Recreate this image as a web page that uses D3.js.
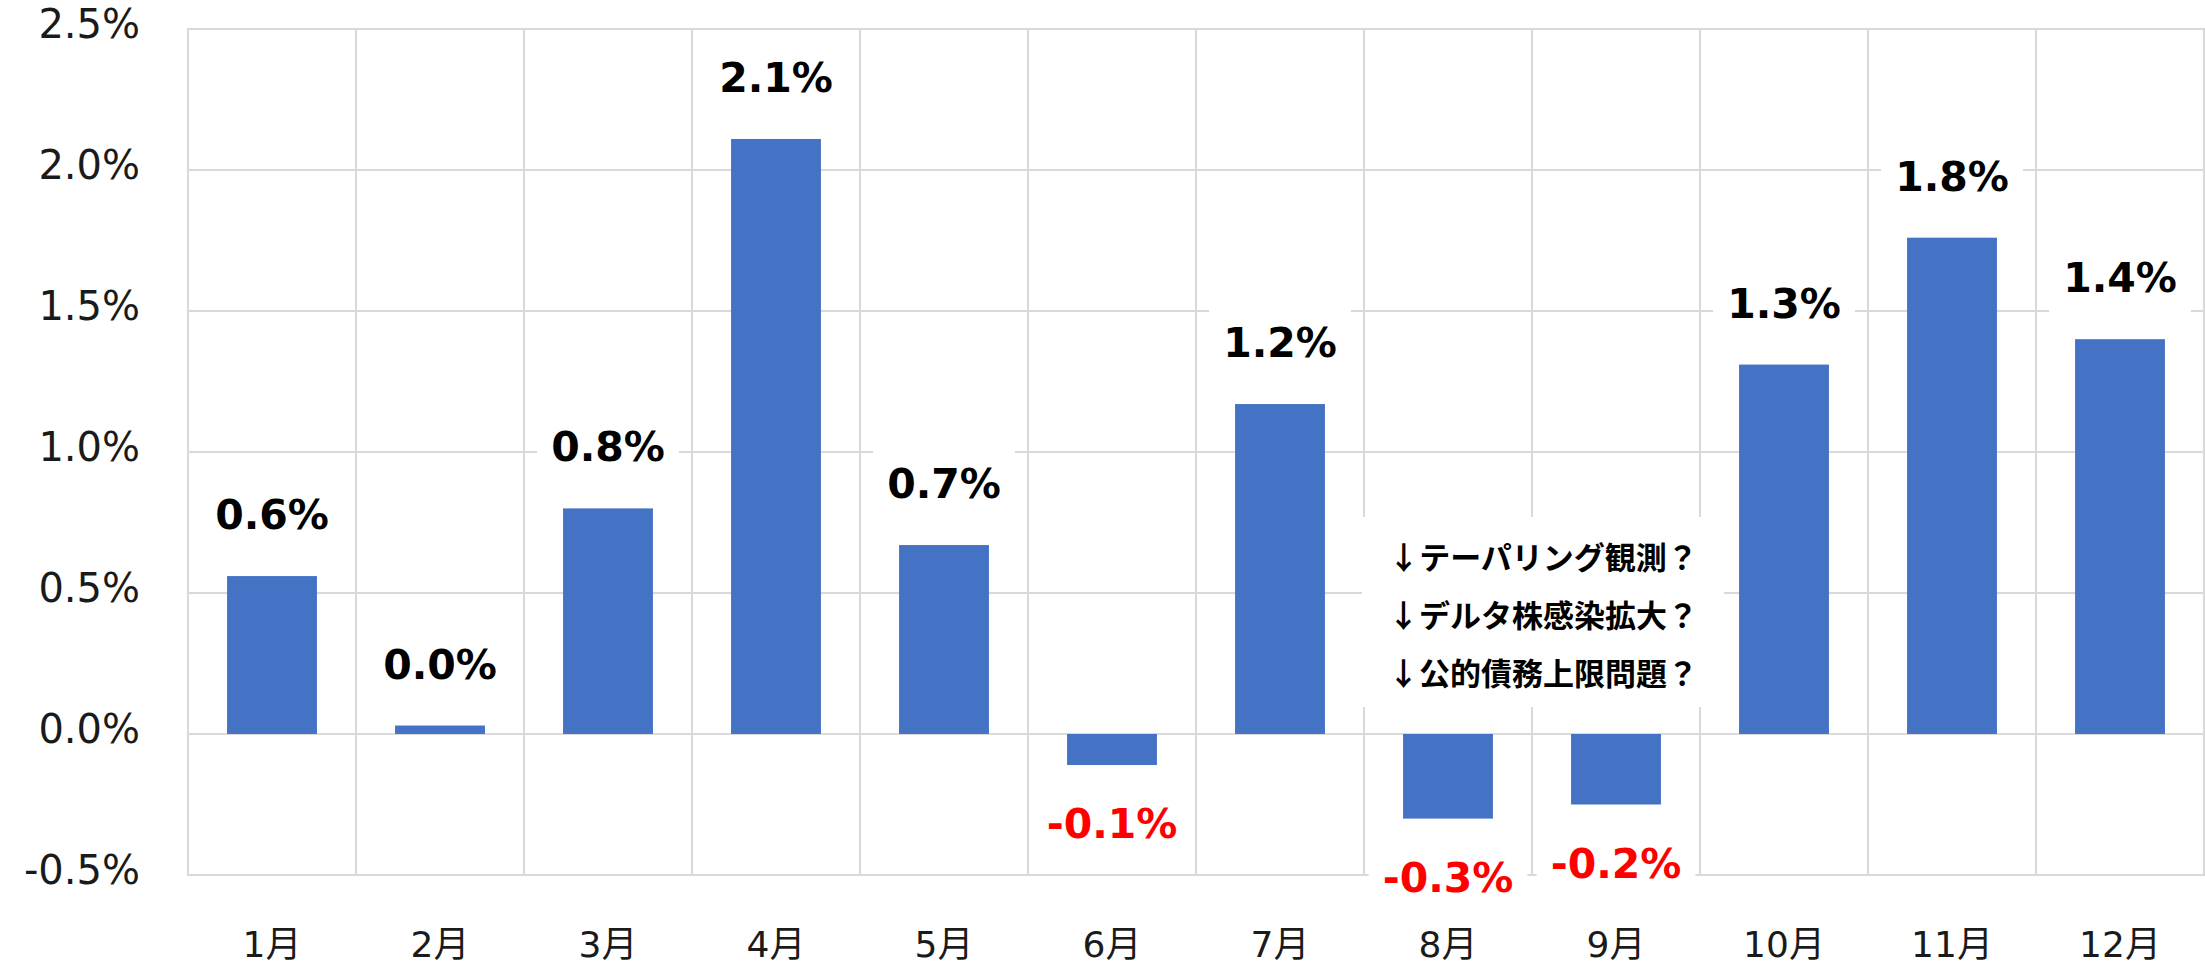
<!DOCTYPE html>
<html>
<head>
<meta charset="utf-8">
<script src="https://cdn.jsdelivr.net/npm/d3@7"></script>
<style>
  body { margin: 0; background: #fff; }
  text { font-family: "DejaVu Sans", "Noto Sans CJK JP", sans-serif; }
</style>
</head>
<body>
<svg class="chart"></svg>
<script>
var months = ["1月", "2月", "3月", "4月", "5月", "6月", "7月", "8月", "9月", "10月", "11月", "12月"];
var values = [0.56, 0.03, 0.80, 2.11, 0.67, -0.11, 1.17, -0.30, -0.25, 1.31, 1.76, 1.40];
var valueLabels = ["0.6%", "0.0%", "0.8%", "2.1%", "0.7%", "-0.1%", "1.2%", "-0.3%", "-0.2%", "1.3%", "1.8%", "1.4%"];
var yTicks = [-0.5, 0, 0.5, 1.0, 1.5, 2.0, 2.5];
var yTickLabels = ["-0.5%", "0.0%", "0.5%", "1.0%", "1.5%", "2.0%", "2.5%"];
var notes = ["↓テーパリング観測？", "↓デルタ株感染拡大？", "↓公的債務上限問題？"];

var W = 2205, H = 965;
var margin = {top: 29, right: 1, bottom: 90, left: 188};

var chart = d3.select(".chart")
    .attr("width", W)
    .attr("height", H);

var x = d3.scaleBand()
    .domain(months)
    .range([margin.left, W - margin.right]);

var y = d3.scaleLinear()
    .domain([-0.5, 2.5])
    .range([H - margin.bottom, margin.top]);

var grid = "#d9d9d9";

// horizontal grid
chart.append("g").selectAll("line")
    .data(yTicks)
  .enter().append("line")
    .attr("x1", margin.left)
    .attr("x2", W - margin.right)
    .attr("y1", function(d) { return y(d); })
    .attr("y2", function(d) { return y(d); })
    .attr("stroke", grid)
    .attr("stroke-width", 2);

// vertical grid (category boundaries)
var bounds = months.map(function(m) { return x(m); }).concat([x.range()[1]]);
chart.append("g").selectAll("line")
    .data(bounds)
  .enter().append("line")
    .attr("x1", function(d) { return d; })
    .attr("x2", function(d) { return d; })
    .attr("y1", y(2.5) - 1)
    .attr("y2", y(-0.5) + 1)
    .attr("stroke", grid)
    .attr("stroke-width", 2);

// y tick labels
chart.append("g").selectAll("text")
    .data(yTicks)
  .enter().append("text")
    .attr("x", 140)
    .attr("y", function(d) { return y(d) + 9; })
    .style("text-anchor", "end")
    .style("font-size", "40px")
    .attr("fill", "#1a1a1a")
    .text(function(d, i) { return yTickLabels[i]; });

// x tick labels
chart.append("g").selectAll("text")
    .data(months)
  .enter().append("text")
    .attr("x", function(d) { return x(d) + x.bandwidth() / 2; })
    .attr("y", 957)
    .style("text-anchor", "middle")
    .style("font-size", "36px")
    .attr("fill", "#1a1a1a")
    .text(function(d) { return d; });

// annotation box
var note = chart.append("g");
var noteCx = x("9月") + 11;
note.append("rect")
    .attr("x", noteCx - 181)
    .attr("y", 517)
    .attr("width", 362)
    .attr("height", 190)
    .attr("fill", "#fff");
note.selectAll("text")
    .data(notes)
  .enter().append("text")
    .attr("x", noteCx)
    .attr("y", function(d, i) { return 569 + i * 58; })
    .style("text-anchor", "middle")
    .style("font-family", "'Noto Sans CJK JP', sans-serif")
    .style("font-weight", "700")
    .style("font-size", "31px")
    .attr("fill", "#000")
    .text(function(d) { return d; });

var data = months.map(function(m, i) { return {month: m, value: values[i], label: valueLabels[i]}; });
var barW = x.bandwidth() * 0.535;

// bars
chart.append("g").selectAll("rect")
    .data(data)
  .enter().append("rect")
    .attr("x", function(d) { return x(d.month) + (x.bandwidth() - barW) / 2; })
    .attr("y", function(d) { return y(Math.max(0, d.value)); })
    .attr("width", barW)
    .attr("height", function(d) { return Math.abs(y(d.value) - y(0)); })
    .attr("fill", "#4472c4");

// data labels with white boxes
var lab = chart.append("g").selectAll("g")
    .data(data)
  .enter().append("g")
    .attr("transform", function(d) {
      var cy = d.value >= 0 ? y(d.value) - 62 : y(d.value) + 58;
      return "translate(" + (x(d.month) + x.bandwidth() / 2) + "," + cy + ")";
    });

lab.append("rect").attr("fill", "#fff");
lab.append("text")
    .attr("y", 15)
    .style("text-anchor", "middle")
    .style("font-size", "41px")
    .style("font-weight", "bold")
    .attr("fill", function(d) { return d.value < 0 ? "#ff0000" : "#000"; })
    .text(function(d) { return d.label; });

lab.each(function() {
  var g = d3.select(this);
  var bb = g.select("text").node().getBBox();
  g.select("rect")
      .attr("x", -bb.width / 2 - 14)
      .attr("y", -40)
      .attr("width", bb.width + 28)
      .attr("height", 80);
});
</script>
</body>
</html>
